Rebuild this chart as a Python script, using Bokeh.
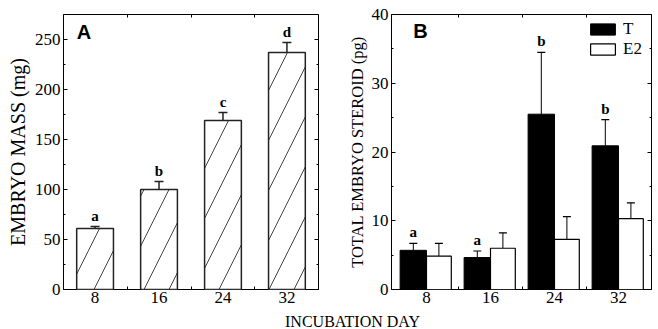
import numpy as np
from bokeh.plotting import figure
from bokeh.models import (ColumnDataSource, Range1d, LinearAxis, FixedTicker,
                          SingleIntervalTicker, Whisker, TeeHead, Legend,
                          LegendItem, Label, Div, CustomJSTickFormatter)
from bokeh.layouts import row, column
from bokeh.embed import file_html
from bokeh.resources import INLINE
from bokeh.core.properties import value

# ---------------- data ----------------
days = [8, 16, 24, 32]
day_tick_labels = ["8", "16", "24", "32"]
mass = [61, 100, 169, 237]
mass_err = [2, 8, 8, 10]
mass_letters = ["a", "b", "c", "d"]

t_vals = [5.7, 4.65, 25.5, 20.9]
t_err = [1.0, 0.95, 9.0, 3.8]
t_letters = ["a", "a", "b", "b"]
e2_vals = [4.85, 6.0, 7.3, 10.3]
e2_err = [1.85, 2.25, 3.3, 2.3]

SERIF = "Liberation Serif"
SANS = "Liberation Sans"


def style_axis(ax, labels=True):
    ax.axis_line_color = None
    ax.major_tick_line_color = "black"
    ax.minor_tick_line_color = "black"
    ax.major_tick_out = 0
    ax.minor_tick_out = 0
    ax.major_tick_in = 4
    ax.minor_tick_in = 2
    ax.major_label_text_font = SERIF
    ax.major_label_text_font_size = "17px"
    ax.major_label_text_color = "black"
    ax.major_label_standoff = 3
    ax.axis_label_text_font = SERIF
    ax.axis_label_text_font_style = "normal"
    ax.axis_label_text_font_size = "17px"
    ax.axis_label_text_color = "black"
    if not labels:
        ax.formatter = CustomJSTickFormatter(code="return ''")
        ax.major_label_standoff = 0


def base_fig(width, xr, yr, mbl, mbr):
    p = figure(width=width, height=308, x_range=xr, y_range=yr,
               output_backend="svg", toolbar_location=None,
               min_border_left=mbl, min_border_right=mbr,
               min_border_top=14, min_border_bottom=19)
    p.xgrid.visible = False
    p.ygrid.visible = False
    p.outline_line_color = "black"
    p.outline_line_width = 1
    p.outline_line_alpha = 1
    p.background_fill_color = "white"
    p.border_fill_color = "white"
    p.xaxis.ticker = FixedTicker(ticks=days, minor_ticks=[12, 20, 28])
    p.xaxis.major_label_overrides = {d: l for d, l in zip(days, day_tick_labels)}
    style_axis(p.xaxis[0])
    p.xaxis.major_tick_in = 0
    p.xaxis.minor_tick_in = 3
    p.xaxis.major_label_standoff = 2
    top = LinearAxis(ticker=FixedTicker(ticks=[], minor_ticks=[12, 20, 28]))
    style_axis(top, labels=False)
    top.minor_tick_in = 3
    p.add_layout(top, "above")
    return p


# ---------------- panel A ----------------
srcA = ColumnDataSource(dict(day=days, mass=mass,
                             hi=np.array(mass) + np.array(mass_err),
                             letter=mass_letters))
pA = base_fig(335, Range1d(4.05, 35.95), Range1d(0, 275), 63, 17)
pA.yaxis.ticker = SingleIntervalTicker(interval=50, num_minor_ticks=2)
style_axis(pA.yaxis[0])
pA.yaxis.axis_label = "EMBRYO MASS (mg)"
pA.yaxis.axis_label_text_font_size = "20px"
pA.yaxis.axis_label_standoff = 3
rA = LinearAxis(ticker=SingleIntervalTicker(interval=50, num_minor_ticks=2))
style_axis(rA, labels=False)
pA.add_layout(rA, "right")

pA.vbar(x="day", top="mass", bottom=0, width=4.6, source=srcA,
        fill_color="white", line_color="#222222", line_width=1.5,
        hatch_pattern="/", hatch_color="#444444", hatch_scale=50,
        hatch_weight=1)
pA.add_layout(Whisker(base="day", lower="mass", upper="hi", source=srcA,
                      lower_head=None,
                      upper_head=TeeHead(size=9, line_width=1.5, line_color="#222222"),
                      line_width=1.5, line_color="#222222"))
pA.text(x="day", y="hi", text="letter", source=srcA,
        text_font=value(SERIF), text_font_style="bold",
        text_font_size="15px", text_align="center",
        text_baseline="bottom", y_offset=-3, text_color="black")
pA.add_layout(Label(x=5.7, y=269, text="A", text_font=SANS,
                    text_font_size="20px", text_font_style="bold",
                    text_baseline="top", text_color="black"))

# ---------------- panel B ----------------
t_x = np.array(days) - 1.65
e_x = np.array(days) + 1.55
srcT = ColumnDataSource(dict(x=t_x, v=t_vals,
                             hi=np.array(t_vals) + np.array(t_err),
                             letter=t_letters))
srcE = ColumnDataSource(dict(x=e_x, v=e2_vals,
                             hi=np.array(e2_vals) + np.array(e2_err)))

pB = base_fig(323, Range1d(3.625, 36.125), Range1d(0, 40), 56, 7)
pB.yaxis.ticker = SingleIntervalTicker(interval=10, num_minor_ticks=2)
style_axis(pB.yaxis[0])
pB.yaxis.axis_label = "TOTAL EMBRYO STEROID (pg)"
pB.yaxis.axis_label_text_font_size = "16.5px"
pB.yaxis.axis_label_standoff = 2
rB = LinearAxis(ticker=SingleIntervalTicker(interval=10, num_minor_ticks=2))
style_axis(rB, labels=False)
pB.add_layout(rB, "right")

rT = pB.vbar(x="x", top="v", bottom=0, width=3.3, source=srcT,
             fill_color="black", line_color="black", line_width=1)
rE = pB.vbar(x="x", top="v", bottom=0, width=3.1, source=srcE,
             fill_color="white", line_color="black", line_width=1.2)
for src in (srcT, srcE):
    pB.add_layout(Whisker(base="x", lower="v", upper="hi", source=src,
                          lower_head=None,
                          upper_head=TeeHead(size=8, line_width=1.2, line_color="black"),
                          line_width=1, line_color="black"))
pB.text(x="x", y="hi", text="letter", source=srcT,
        text_font=value(SERIF), text_font_style="bold",
        text_font_size="15px", text_align="center",
        text_baseline="bottom", y_offset=-3, text_color="black")
pB.add_layout(Label(x=6.35, y=39.13, text="B", text_font=SANS,
                    text_font_size="20px", text_font_style="bold",
                    text_baseline="top", text_color="black"))

legend = Legend(items=[LegendItem(label="T", renderers=[rT]),
                       LegendItem(label="E2", renderers=[rE])],
                location=(196, 230), glyph_width=31, glyph_height=14,
                label_height=14, spacing=-3, padding=0, margin=0,
                label_standoff=5, border_line_alpha=0,
                background_fill_alpha=0, label_text_font=SERIF,
                label_text_font_size="17px", label_text_line_height=0.85,
                label_text_color="black")
pB.add_layout(legend)

xlabel = Div(text=('<div style="width:658px;height:21px;line-height:17px;'
                   'padding-left:37px;box-sizing:border-box;text-align:center;'
                   "font-family:'Liberation Serif';font-size:16px;color:black;\">"
                   'INCUBATION DAY</div>'),
             width=658, height=21)

layout = column(row(pA, pB), xlabel)
open("out.html", "w").write(file_html(layout, INLINE))
